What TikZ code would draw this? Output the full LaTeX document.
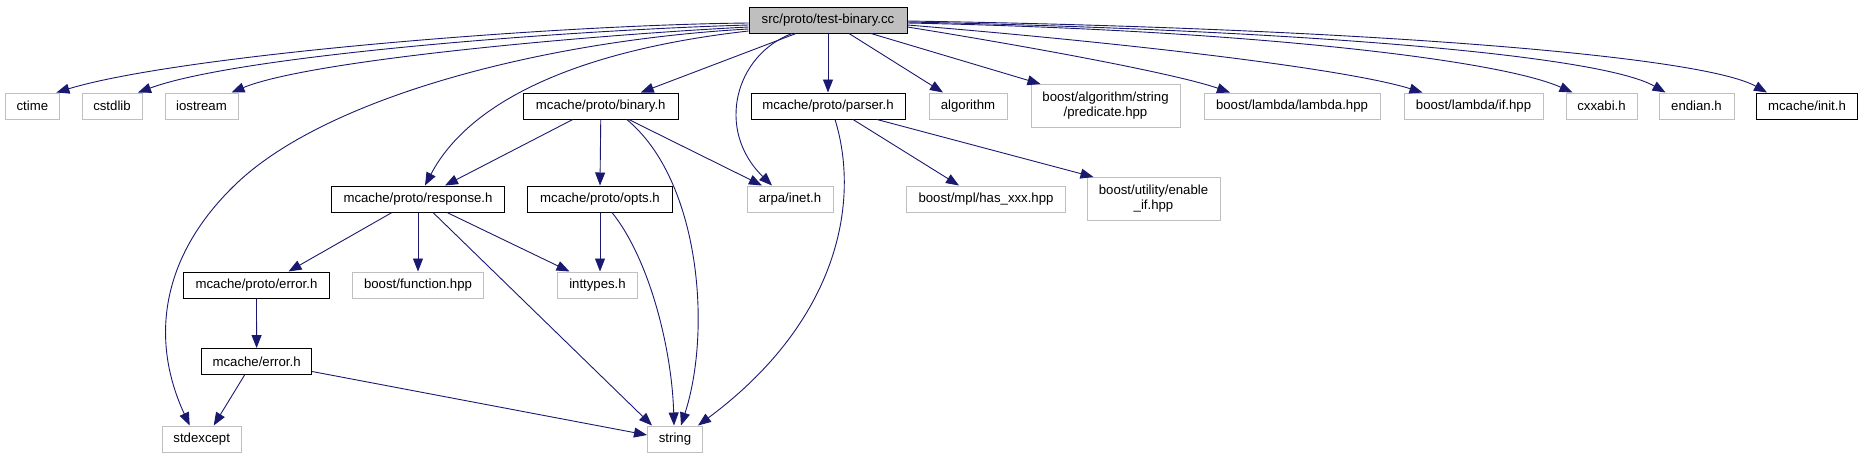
\documentclass[tikz,border=0pt]{standalone}
\usepackage{fontspec}
\setmainfont{Liberation Sans}
\usetikzlibrary{arrows.meta}
\definecolor{edgeblue}{HTML}{191970}
\definecolor{framegray}{HTML}{BFBFBF}
\begin{document}
\begin{tikzpicture}[x=1pt,y=-1pt,
  every node/.style={font=\fontsize{13.2}{15}\selectfont, inner sep=0pt, minimum height=26pt, line width=1pt},
  sysfile/.style={draw=framegray, fill=white},
  ownfile/.style={draw=black, fill=white},
  thisfile/.style={draw=black, fill=framegray},
  incl/.style={draw=edgeblue, line width=0.9pt, -{Triangle[length=13pt,width=10pt]}}]

\useasboundingbox (0,0) rectangle (1863,459);

\node[thisfile, minimum width=158pt] (test) at (828,20) {src/proto/test-binary.cc};

\node[sysfile, minimum width=54pt] (ctime) at (32.4,106) {ctime};
\node[sysfile, minimum width=60pt] (cstdlib) at (112,106) {cstdlib};
\node[sysfile, minimum width=73pt] (iostream) at (201.5,106) {iostream};
\node[ownfile, minimum width=155pt] (binary) at (600.75,106) {mcache/proto/binary.h};
\node[ownfile, minimum width=154pt] (parser) at (828,106) {mcache/proto/parser.h};
\node[sysfile, minimum width=78pt] (algorithm) at (968,106) {algorithm};
\node[sysfile, minimum width=149pt, minimum height=43pt, align=center] (predicate) at (1105.5,106) {boost/algorithm/string\\/predicate.hpp};
\node[sysfile, minimum width=176pt] (lambda) at (1292,106) {boost/lambda/lambda.hpp};
\node[sysfile, minimum width=139pt] (lambdaif) at (1473.5,106) {boost/lambda/if.hpp};
\node[sysfile, minimum width=71pt] (cxxabi) at (1601.5,106) {cxxabi.h};
\node[sysfile, minimum width=75pt] (endian) at (1696.5,106) {endian.h};
\node[ownfile, minimum width=101pt] (init) at (1807,106) {mcache/init.h};

\node[ownfile, minimum width=173pt] (response) at (418,199) {mcache/proto/response.h};
\node[ownfile, minimum width=145pt] (opts) at (600,199) {mcache/proto/opts.h};
\node[sysfile, minimum width=86pt] (arpa) at (790,199) {arpa/inet.h};
\node[sysfile, minimum width=159pt] (hasxxx) at (986,199) {boost/mpl/has\_xxx.hpp};
\node[sysfile, minimum width=133pt, minimum height=43pt, align=center] (enableif) at (1153.5,199) {boost/utility/enable\\\_if.hpp};

\node[ownfile, minimum width=146pt] (protoerror) at (256.5,285) {mcache/proto/error.h};
\node[sysfile, minimum width=131pt] (function) at (418,285) {boost/function.hpp};
\node[sysfile, minimum width=80pt] (inttypes) at (597.5,285) {inttypes.h};

\node[ownfile, minimum width=110pt] (mcerror) at (256.6,361.5) {mcache/error.h};

\node[sysfile, minimum width=79pt] (stdexcept) at (201.7,439) {stdexcept};
\node[sysfile, minimum width=55pt] (string) at (675,439) {string};

\draw[incl] ([yshift=-3pt]test.west) .. controls (550,25) and (180,55) .. ([xshift=24pt]ctime.north);
\draw[incl] ([yshift=-5pt]test.west) .. controls (570,30) and (240,55) .. ([xshift=26pt]cstdlib.north);
\draw[incl] ([yshift=-7pt]test.west) .. controls (590,35) and (310,60) .. ([xshift=30pt]iostream.north);
\draw[incl] ([yshift=-9pt]test.west) .. controls (550,40) and (330,95) .. (237,183) .. controls (160,256) and (150,340) .. ([xshift=-12pt]stdexcept.north);
\draw[incl] ([yshift=-11pt]test.west) .. controls (580,50) and (470,100) .. ([xshift=7pt]response.north);
\draw[incl] ([xshift=-32pt]test.south) -- ([xshift=40pt]binary.north);
\draw[incl] ([xshift=-36pt]test.south) .. controls (735,55) and (715,130) .. ([xshift=-18pt]arpa.north);
\draw[incl] (test.south) -- (parser.north);
\draw[incl] ([xshift=21pt]test.south) -- ([xshift=-25pt]algorithm.north);
\draw[incl] ([xshift=43pt]test.south) -- ([xshift=-65pt]predicate.north);
\draw[incl] ([yshift=-7pt]test.east) .. controls (1050,50) and (1180,75) .. ([xshift=-62pt]lambda.north);
\draw[incl] ([yshift=-5pt]test.east) .. controls (1150,45) and (1350,70) .. ([xshift=-51pt]lambdaif.north);
\draw[incl] ([yshift=-3pt]test.east) .. controls (1250,30) and (1500,60) .. ([xshift=-29pt]cxxabi.north);
\draw[incl] ([yshift=-2pt]test.east) .. controls (1300,30) and (1600,55) .. ([xshift=-31pt]endian.north);
\draw[incl] ([yshift=-1pt]test.east) .. controls (1350,28) and (1700,55) .. ([xshift=-40pt]init.north);

\draw[incl] ([xshift=-28pt]binary.south) -- ([xshift=27pt]response.north);
\draw[incl] (binary.south) -- (opts.north);
\draw[incl] ([xshift=28pt]binary.south) -- ([xshift=-28pt]arpa.north);
\draw[incl] ([xshift=26pt]binary.south) .. controls (700,180) and (712,330) .. ([xshift=6pt]string.north);

\draw[incl] ([xshift=7pt]parser.south) .. controls (860,200) and (840,320) .. ([xshift=23pt]string.north);
\draw[incl] ([xshift=25pt]parser.south) -- ([xshift=-27pt]hasxxx.north);
\draw[incl] ([xshift=49pt]parser.south) -- ([xshift=-60pt]enableif.north);

\draw[incl] ([xshift=-26pt]response.south) -- ([xshift=32pt]protoerror.north);
\draw[incl] (response.south) -- (function.north);
\draw[incl] ([xshift=29pt]response.south) -- ([xshift=-28pt]inttypes.north);
\draw[incl] ([xshift=15pt]response.south) -- ([xshift=-23pt]string.north);

\draw[incl] (opts.south) -- (opts.south |- inttypes.north);
\draw[incl] ([xshift=12pt]opts.south) .. controls (650,260) and (672,350) .. ([xshift=-1pt]string.north);

\draw[incl] (protoerror.south) -- (mcerror.north);

\draw[incl] ([xshift=-12pt]mcerror.south) -- ([xshift=12pt]stdexcept.north);
\draw[incl] ([yshift=-10pt]mcerror.east) -- ([yshift=4pt]string.west);
\end{tikzpicture}
\end{document}
